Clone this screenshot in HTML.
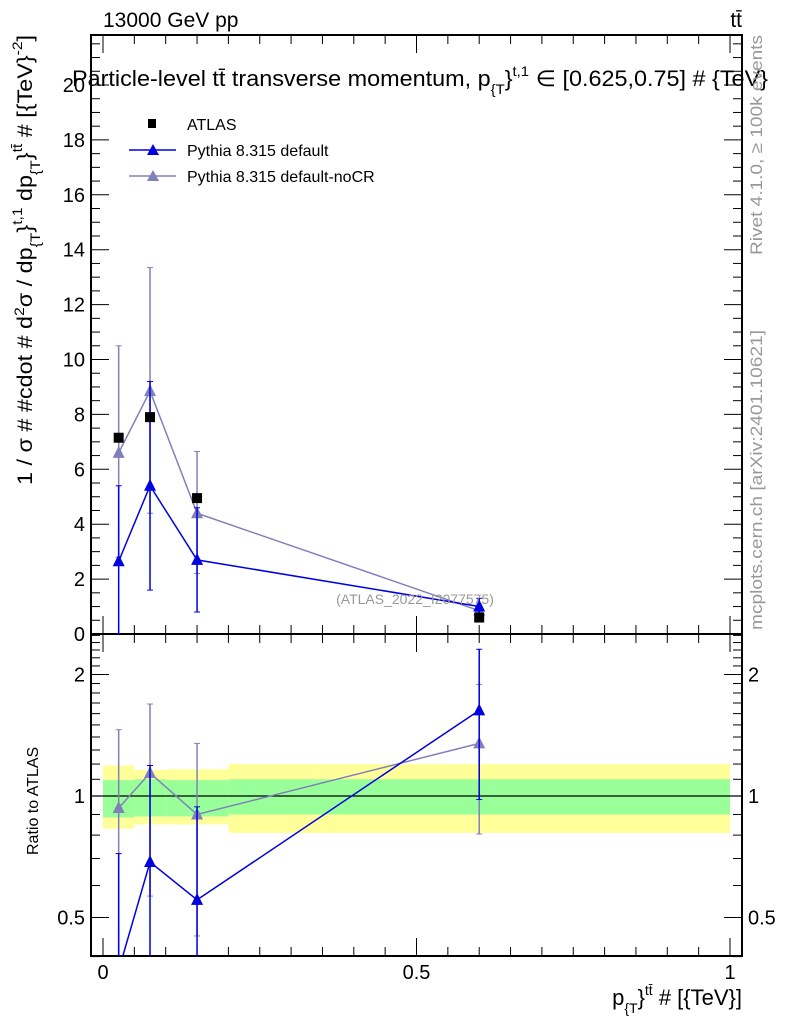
<!DOCTYPE html>
<html><head><meta charset="utf-8"><style>
body{margin:0;background:#fff;}
svg text{font-family:"Liberation Sans",sans-serif;}
</style></head><body>
<svg id="chart" width="786" height="1024" xmlns="http://www.w3.org/2000/svg">
<g id="bands"></g>
<g id="axes"></g>
<g id="series"></g>
<text x="103" y="27" font-size="21">13000 GeV pp</text>
<text x="742" y="27" font-size="21" text-anchor="end">tt̄</text>
<text x="72" y="86" font-size="22" textLength="696" lengthAdjust="spacingAndGlyphs">Particle-level tt̄ transverse momentum, p<tspan font-size="14" dy="8">{T</tspan><tspan dy="-8">}</tspan><tspan font-size="14" dy="-10">t,1</tspan><tspan dy="10"> ∈ [0.625,0.75] # {TeV}</tspan></text>
<text x="415" y="604" font-size="14" fill="#999" text-anchor="middle">(ATLAS_2022_I2077575)</text>
<text transform="translate(762,255) rotate(-90)" font-size="17" fill="#999" textLength="220" lengthAdjust="spacingAndGlyphs">Rivet 4.1.0, ≥ 100k events</text>
<text transform="translate(762,630) rotate(-90)" font-size="17" fill="#999" textLength="300" lengthAdjust="spacingAndGlyphs">mcplots.cern.ch [arXiv:2401.10621]</text>
<text transform="translate(32,485) rotate(-90)" font-size="21" textLength="450" lengthAdjust="spacingAndGlyphs">1 / σ # #cdot # d<tspan font-size="14" dy="-8">2</tspan><tspan dy="8">σ / dp</tspan><tspan font-size="14" dy="8">{T</tspan><tspan dy="-8">}</tspan><tspan font-size="14" dy="-10">t,1</tspan><tspan dy="10"> dp</tspan><tspan font-size="14" dy="8">{T</tspan><tspan dy="-8">}</tspan><tspan font-size="14" dy="-10">tt̄</tspan><tspan dy="10"> # [{TeV}</tspan><tspan font-size="14" dy="-10">-2</tspan><tspan dy="10">]</tspan></text>
<text transform="translate(38,855) rotate(-90)" font-size="16">Ratio to ATLAS</text>
<text x="742" y="1005" font-size="22" text-anchor="end">p<tspan font-size="14" dy="8">{T</tspan><tspan dy="-8">}</tspan><tspan font-size="14" dy="-10">tt̄</tspan><tspan dy="10"> # [{TeV}]</tspan></text>
<g>
<rect x="148" y="119" width="8" height="9" fill="#000"/>
<text x="187" y="130" font-size="16">ATLAS</text>
<line x1="129" y1="150" x2="176" y2="150" stroke="#0000e0" stroke-width="1.5"/>
<polygon points="147,155 153,144 159,155" fill="#0000e0"/>
<text x="187" y="156" font-size="16">Pythia 8.315 default</text>
<line x1="129" y1="176" x2="176" y2="176" stroke="#8080bb" stroke-width="1.5"/>
<polygon points="147,181 153,170 159,181" fill="#8080bb"/>
<text x="187" y="182" font-size="16">Pythia 8.315 default-noCR</text>
</g>
</svg>
<script>
const binEdges=[0,0.05,0.1,0.2,1.0];
const xCenters=[0.025,0.075,0.15,0.6];
const atlasVals=[7.15,7.9,4.95,0.6];
const defVals=[2.65,5.4,2.7,1.0];
const defLo=[0,1.6,0.8,0.7];
const defHi=[5.4,9.2,4.6,1.3];
const nocrVals=[6.6,8.85,4.4,0.85];
const nocrLo=[2.8,4.4,2.2,0.6];
const nocrHi=[10.5,13.35,6.65,1.1];
const defRatio=[0.37,0.686,0.553,1.63];
const defRatioLo=[0.3,0.3,0.3,0.98];
const defRatioHi=[0.72,1.19,0.94,2.31];
const nocrRatio=[0.934,1.14,0.90,1.35];
const nocrRatioLo=[0.3,0.565,0.45,0.805];
const nocrRatioHi=[1.46,1.69,1.35,1.89];
const yellowHi=[1.19,1.16,1.165,1.2];
const yellowLo=[0.83,0.85,0.85,0.81];
const greenHi=[1.095,1.10,1.095,1.10];
const greenLo=[0.885,0.89,0.89,0.90];
const mainTicks=[0,2,4,6,8,10,12,14,16,18,20];
const ratioTicks=[0.5,1,2];
const xTicks=[0,0.5,1];

const NS="http://www.w3.org/2000/svg";
const L=91,R=742,MT=35,MB=634,RT=634,RB=956;
const X=v=>103+v*627;
const Y=v=>634-v*27.45;
const YR=v=>{const c=Math.max(0.3,Math.min(3,v));return 796-Math.log2(c)*121.5;};
function mk(p,t,a){const e=document.createElementNS(NS,t);for(const k in a)e.setAttribute(k,a[k]);p.appendChild(e);return e;}
const ax=document.getElementById('axes'),se=document.getElementById('series'),bd=document.getElementById('bands');
for(let i=0;i<4;i++){
 const y1=mk(bd,'rect',{x:X(binEdges[i]),y:YR(yellowHi[i]),width:X(binEdges[i+1])-X(binEdges[i]),height:YR(yellowLo[i])-YR(yellowHi[i]),fill:'#ffff99'});
 
 
 const g1=mk(bd,'rect',{x:X(binEdges[i]),y:YR(greenHi[i]),width:X(binEdges[i+1])-X(binEdges[i]),height:YR(greenLo[i])-YR(greenHi[i]),fill:'#99ff99'});
 
 
}
mk(ax,'line',{x1:L,x2:R,y1:YR(1),y2:YR(1),stroke:'#000','stroke-width':1.2});
mk(ax,'rect',{x:L,y:MT,width:R-L,height:MB-MT,fill:'none',stroke:'#000','stroke-width':2});
mk(ax,'rect',{x:L,y:RT,width:R-L,height:RB-RT,fill:'none',stroke:'#000','stroke-width':2});
for(let v=0;v<=21.5;v+=0.5){const maj=v%2===0;const len=maj?18:9;
 mk(ax,'line',{x1:L,x2:L+len,y1:Y(v),y2:Y(v),stroke:'#000'});mk(ax,'line',{x1:R-len,x2:R,y1:Y(v),y2:Y(v),stroke:'#000'});}
mainTicks.forEach(v=>{const t=mk(ax,'text',{x:L-6,y:Y(v)+7,'font-size':20,'text-anchor':'end'});t.textContent=v;
 
 });
[0.4,0.5,0.6,0.7,0.8,0.9,1,1.1,1.2,1.3,1.4,1.5,1.6,1.7,1.8,1.9,2,2.1,2.2,2.3,2.4,2.5].forEach(v=>{const maj=ratioTicks.includes(v);const len=maj?18:9;
 mk(ax,'line',{x1:L,x2:L+len,y1:YR(v),y2:YR(v),stroke:'#000'});mk(ax,'line',{x1:R-len,x2:R,y1:YR(v),y2:YR(v),stroke:'#000'});});
ratioTicks.forEach(v=>{const t=mk(ax,'text',{x:L-6,y:YR(v)+7,'font-size':20,'text-anchor':'end'});t.textContent=v;
 
 
 const t2=mk(ax,'text',{x:R+6,y:YR(v)+7,'font-size':20});t2.textContent=v;
 
 });
for(let v=0;v<=1.0001;v+=0.05){const maj=Math.abs(v*2-Math.round(v*2))<1e-6;const len=maj?18:9;const x=X(v);
 mk(ax,'line',{x1:x,x2:x,y1:MB,y2:MB-len,stroke:'#000'});mk(ax,'line',{x1:x,x2:x,y1:MT,y2:MT+len,stroke:'#000'});
 mk(ax,'line',{x1:x,x2:x,y1:RB,y2:RB-len,stroke:'#000'});mk(ax,'line',{x1:x,x2:x,y1:RT,y2:RT+len,stroke:'#000'});}
xTicks.forEach(v=>{const t=mk(ax,'text',{x:X(v),y:RB+23,'font-size':20,'text-anchor':'middle'});t.textContent=v;
 
 });
function clipG(top,bot){const id='c'+top;const cp=mk(se,'clipPath',{id:id});mk(cp,'rect',{x:L,y:top,width:R-L,height:bot-top});return mk(se,'g',{'clip-path':'url(#'+id+')'});}
const gm=clipG(MT,MB),gr=clipG(RT,RB);
function tri(g,x,y,c){mk(g,'polygon',{points:`${x-6},${y+5} ${x},${y-7} ${x+6},${y+5}`,fill:c});}
function series(g,vals,lo,hi,ys,c,name){
 const pl=mk(g,'polyline',{points:xCenters.map((x,i)=>X(x)+','+ys(vals[i])).join(' '),fill:'none',stroke:c,'stroke-width':1.5});
 
 
 xCenters.forEach((x,i)=>{const px=X(x);
  mk(g,'line',{x1:px,x2:px,y1:ys(lo[i]),y2:ys(hi[i]),stroke:c,'stroke-width':1.5});
  mk(g,'line',{x1:px-3,x2:px+3,y1:ys(hi[i]),y2:ys(hi[i]),stroke:c});
  mk(g,'line',{x1:px-3,x2:px+3,y1:ys(lo[i]),y2:ys(lo[i]),stroke:c});
  tri(g,px,ys(vals[i]),c);});
}
series(gm,nocrVals,nocrLo,nocrHi,Y,'#8080bb','nocr');
series(gm,defVals,defLo,defHi,Y,'#0000e0','default');
xCenters.forEach((x,i)=>{const r=mk(gm,'rect',{x:X(x)-5,y:Y(atlasVals[i])-5,width:10,height:10,fill:'#000'});
 
 });
series(gr,nocrRatio,nocrRatioLo,nocrRatioHi,YR,'#8080bb','nocr-ratio');
series(gr,defRatio,defRatioLo,defRatioHi,YR,'#0000e0','default-ratio');
</script>
</body></html>
